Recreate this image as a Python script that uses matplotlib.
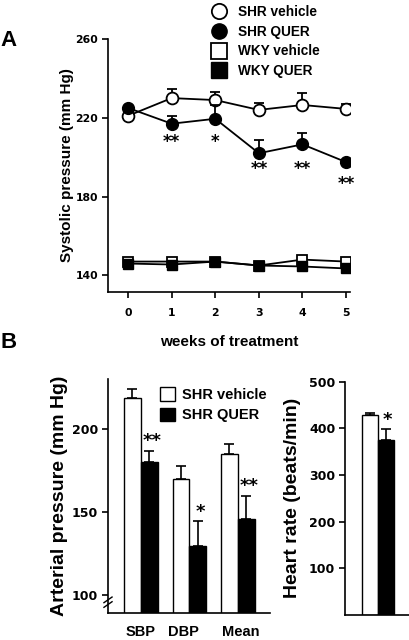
import matplotlib
matplotlib.use("Agg")
import matplotlib.pyplot as plt
from matplotlib.lines import Line2D
from matplotlib.patches import Patch
import numpy as np

plt.rcParams['font.family'] = ['Liberation Sans', 'DejaVu Sans']
plt.rcParams['font.weight'] = 'bold'

# ---- Panel A data ----
weeks = [0, 1, 2, 3, 4, 5]
shr_vehicle = [221, 230, 229, 224, 226.5, 224.5]
shr_vehicle_err = [0, 4.5, 4, 3.5, 6, 2.5]
shr_quer = [225, 217, 219.5, 202, 206.5, 197.5]
shr_quer_err = [0, 4, 7, 6.5, 6, 1]
wky_vehicle = [147, 147, 147, 145, 148, 147]
wky_quer = [146, 145.5, 147, 145, 144.5, 143.5]
stars_a = ['', '**', '*', '**', '**', '**']
star_off_a = [0, -16, -20, -14, -21, -19]

# ---- Panel B data ----
bp_categories = ['SBP', 'DBP', 'Mean']
bp_vehicle = [219, 170, 185]
bp_vehicle_err = [5, 8, 6]
bp_quer = [180, 129.5, 146]
bp_quer_err = [7, 15, 14]
bp_stars = ['**', '*', '**']

hr_vehicle = [428]
hr_vehicle_err = [5]
hr_quer = [376]
hr_quer_err = [23]
hr_stars = ['*']

W, H = 410, 640
fig = plt.figure(figsize=(W / 100, H / 100), dpi=100)
TICKFONT = 'DejaVu Sans'

def rect(x0, y0, x1, y1):
    return [x0 / W, 1 - y1 / H, (x1 - x0) / W, (y1 - y0) / H]

def bold_ticks(ax, size):
    for lab in ax.get_xticklabels() + ax.get_yticklabels():
        lab.set_fontweight('bold')
    for lab in ax.get_yticklabels():
        lab.set_family(TICKFONT)
        lab.set_fontsize(size)

# ================= Panel A =================
axA = fig.add_axes(rect(108, 39, 350, 291.7))
lw = 1.3
axA.errorbar(weeks, shr_vehicle, yerr=[np.zeros(6), shr_vehicle_err], color='black',
             lw=lw, capsize=3.5, capthick=lw, marker='o', ms=8.5, mfc='white', mec='black',
             mew=1.3, zorder=3)
axA.errorbar(weeks, shr_quer, yerr=[np.zeros(6), shr_quer_err], color='black',
             lw=lw, capsize=3.5, capthick=lw, marker='o', ms=8.5, mfc='black', mec='black',
             zorder=4)
axA.plot(weeks, wky_vehicle, color='black', lw=lw, marker='s', ms=7.5, mfc='white',
         mec='black', mew=1.3, zorder=3)
axA.plot(weeks, wky_quer, color='black', lw=lw, marker='s', ms=7.5, mfc='black',
         mec='black', zorder=4)
for x, y, s, o in zip(weeks, shr_quer, stars_a, star_off_a):
    if s:
        axA.annotate(s, (x, y), xytext=(0, o + 3), textcoords='offset points',
                     ha='center', va='center', fontsize=12, fontweight='bold',
                     family='DejaVu Sans')

axA.set_xlim(-0.46, 5.09)
axA.set_ylim(131.7, 260)
axA.set_yticks([140, 180, 220, 260])
axA.set_xticks(weeks)
axA.spines['top'].set_visible(False)
axA.spines['right'].set_visible(False)
for s in ['left', 'bottom']:
    axA.spines[s].set_linewidth(1.2)
axA.tick_params(axis='both', direction='out', length=4, width=1.2, labelsize=7.8, pad=3)
axA.tick_params(axis='x', pad=8)
bold_ticks(axA, 7.8)
for lab in axA.get_xticklabels():
    lab.set_family(TICKFONT)
axA.set_ylabel('Systolic pressure (mm Hg)', fontsize=11, fontweight='bold', labelpad=1)
axA.set_xlabel('weeks of treatment', fontsize=11, fontweight='bold', labelpad=12)

handlesA = [
    Line2D([], [], ls='none', marker='o', ms=11, mfc='white', mec='black', mew=1.3),
    Line2D([], [], ls='none', marker='o', ms=11, mfc='black', mec='black'),
    Line2D([], [], ls='none', marker='s', ms=11, mfc='white', mec='black', mew=1.3),
    Line2D([], [], ls='none', marker='s', ms=11, mfc='black', mec='black'),
]
fig.legend(handlesA, ['SHR vehicle', 'SHR QUER', 'WKY vehicle', 'WKY QUER'],
           loc='upper left', bbox_to_anchor=(212 / W, 1 - 5 / H), frameon=False,
           prop={'size': 9.8, 'weight': 'bold'}, handlelength=1.0, handletextpad=0.9,
           labelspacing=0.42, borderpad=0, borderaxespad=0)

fig.text(0 / W, 1 - 40 / H, 'A', fontsize=16, fontweight='bold', ha='left', va='center')
fig.text(0 / W, 1 - 343 / H, 'B', fontsize=16, fontweight='bold', ha='left', va='center')

# ================= Panel B (arterial pressure) =================
axB = fig.add_axes(rect(108, 379, 270, 612.7))
bw = 0.35
xc = np.arange(len(bp_categories))
axB.bar(xc - bw / 2, bp_vehicle, width=bw, color='white', edgecolor='black', lw=1.0,
        yerr=[np.zeros(3), bp_vehicle_err], error_kw=dict(lw=1.2, capsize=3.5, capthick=1.2),
        zorder=2)
axB.bar(xc + bw / 2, bp_quer, width=bw, color='black', edgecolor='black', lw=1.0,
        yerr=[np.zeros(3), bp_quer_err], error_kw=dict(lw=1.2, capsize=3.5, capthick=1.2),
        zorder=2)
for x, y, e, s in zip(xc, bp_quer, bp_quer_err, bp_stars):
    axB.annotate(s, (x + bw / 2 + 0.05, y + e), xytext=(0, 7), textcoords='offset points',
                 ha='center', va='center', fontsize=13, fontweight='bold',
                 family='DejaVu Sans')
axB.set_xlim(-0.68, 2.66)
axB.set_ylim(89.4, 230.3)
axB.set_yticks([100, 150, 200])
axB.set_xticks([0, 0.87, 2.05])
axB.set_xticklabels(bp_categories)
axB.spines['top'].set_visible(False)
axB.spines['right'].set_visible(False)
for s in ['left', 'bottom']:
    axB.spines[s].set_linewidth(1.2)
axB.tick_params(axis='y', direction='out', length=4, width=1.2, labelsize=9, pad=3)
axB.tick_params(axis='x', length=0, labelsize=10.5, pad=9)
bold_ticks(axB, 9)
axB.set_ylabel('Arterial pressure (mm Hg)', fontsize=14, fontweight='bold', labelpad=3)
# axis break marks
for yy in (0.035, 0.055):
    axB.plot([-0.025, 0.025], [yy - 0.012, yy + 0.012], transform=axB.transAxes,
             color='black', lw=1.0, clip_on=False, zorder=5)

handlesB = [Patch(facecolor='white', edgecolor='black', lw=1.0),
            Patch(facecolor='black', edgecolor='black', lw=1.0)]
fig.legend(handlesB, ['SHR vehicle', 'SHR QUER'], loc='upper left',
           bbox_to_anchor=(160 / W, 1 - 387 / H), frameon=False,
           prop={'size': 10.5, 'weight': 'bold'}, handlelength=1.05, handleheight=1.05,
           handletextpad=0.45, labelspacing=0.4, borderpad=0, borderaxespad=0)

# ================= Panel B (heart rate) =================
axC = fig.add_axes(rect(345, 381.7, 445, 615))
bw2 = 1.0
axC.bar([-bw2 / 2], hr_vehicle, width=bw2, color='white', edgecolor='black', lw=1.0,
        yerr=[[0], hr_vehicle_err], error_kw=dict(lw=1.2, capsize=3.5, capthick=1.2))
axC.bar([bw2 / 2], hr_quer, width=bw2, color='black', edgecolor='black', lw=1.0,
        yerr=[[0], hr_quer_err], error_kw=dict(lw=1.2, capsize=3.5, capthick=1.2))
for y, e, s in zip(hr_quer, hr_quer_err, hr_stars):
    axC.annotate(s, (bw2 / 2 + 0.1, y + e), xytext=(0, 6), textcoords='offset points',
                 ha='center', va='center', fontsize=13, fontweight='bold',
                 family='DejaVu Sans')
axC.set_xlim(-2.06, 4.19)
axC.set_ylim(0, 500)
axC.set_yticks([100, 200, 300, 400, 500])
axC.set_xticks([])
axC.spines['top'].set_visible(False)
axC.spines['right'].set_visible(False)
for s in ['left', 'bottom']:
    axC.spines[s].set_linewidth(1.2)
axC.tick_params(axis='y', direction='out', length=4, width=1.2, labelsize=9, pad=3)
bold_ticks(axC, 9)
axC.set_ylabel('Heart rate (beats/min)', fontsize=14, fontweight='bold', labelpad=6)

fig.savefig('out.png', dpi=100)
